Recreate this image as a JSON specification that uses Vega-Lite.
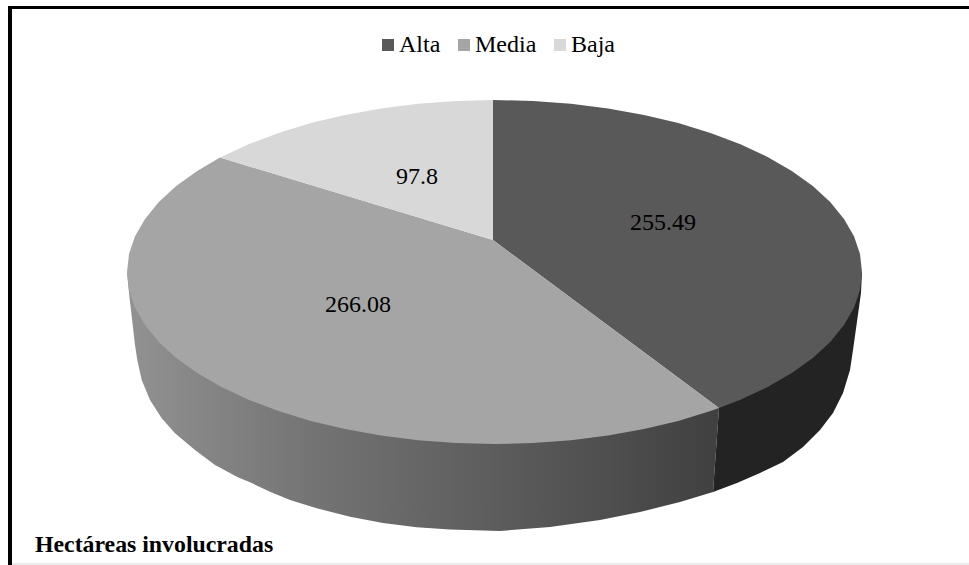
{
  "$schema": "https://vega.github.io/schema/vega-lite/v6.json",
  "width": 969,
  "height": 565,
  "autosize": {"type": "none"},
  "padding": 0,
  "background": "white",
  "view": {"stroke": null},
  "datasets": {
    "mediaWall": [
      {"x":127,"y":272},{"x":129,"y":293},{"x":135,"y":345},{"x":137.3,"y":360},{"x":141.7,"y":380},{"x":150,"y":400},{"x":161.7,"y":418.3},{"x":175,"y":433.3},{"x":195,"y":450},{"x":215,"y":465},{"x":238.3,"y":477.5},{"x":250,"y":482.3},{"x":270,"y":491.7},{"x":290,"y":500},{"x":316.7,"y":508.3},{"x":350,"y":516.7},{"x":383,"y":523},{"x":416.7,"y":527.3},{"x":450,"y":529.5},{"x":500,"y":531},{"x":550,"y":527},{"x":600,"y":520},{"x":640,"y":512},{"x":680,"y":502},{"x":713,"y":492},{"x":719,"y":408},{"x":494,"y":300}
    ],
    "altaWall": [
      {"x":719,"y":408},{"x":713,"y":492},{"x":737,"y":483},{"x":760,"y":473},{"x":783,"y":462},{"x":803,"y":447},{"x":820,"y":430},{"x":833,"y":413},{"x":843,"y":393},{"x":850,"y":370},{"x":853,"y":350},{"x":861,"y":293},{"x":862,"y":272},{"x":700,"y":300}
    ],
    "altaTop": [
      {"x":493,"y":240},{"x":493,"y":100},{"x":532.9,"y":100.9},{"x":570.9,"y":103.8},{"x":608.1,"y":108.4},{"x":644,"y":114.9},{"x":678.3,"y":123},{"x":710.5,"y":132.9},{"x":740.4,"y":144.2},{"x":767.6,"y":156.9},{"x":791.8,"y":170.9},{"x":812.8,"y":186},{"x":830.2,"y":202},{"x":844,"y":218.9},{"x":854,"y":236.2},{"x":860,"y":254},{"x":862,"y":272},{"x":860,"y":290},{"x":854,"y":307.8},{"x":844,"y":325.1},{"x":830.2,"y":342},{"x":812.8,"y":358},{"x":791.8,"y":373.1},{"x":767.6,"y":387.1},{"x":740.4,"y":399.8},{"x":719,"y":408}
    ],
    "mediaTop": [
      {"x":493,"y":240},{"x":719,"y":408},{"x":710.5,"y":411.1},{"x":678.3,"y":421},{"x":644,"y":429.1},{"x":608.1,"y":435.6},{"x":570.9,"y":440.2},{"x":532.9,"y":443.1},{"x":494.5,"y":444},{"x":456.1,"y":443.1},{"x":418.1,"y":440.2},{"x":380.9,"y":435.6},{"x":345,"y":429.1},{"x":310.7,"y":421},{"x":278.5,"y":411.1},{"x":248.6,"y":399.8},{"x":221.4,"y":387.1},{"x":197.2,"y":373.1},{"x":176.2,"y":358},{"x":158.8,"y":342},{"x":145,"y":325.1},{"x":135,"y":307.8},{"x":129,"y":290},{"x":127,"y":272},{"x":129,"y":254},{"x":135,"y":236.2},{"x":145,"y":218.9},{"x":158.8,"y":202},{"x":176.2,"y":186},{"x":197.2,"y":170.9},{"x":220,"y":157.5}
    ],
    "bajaTop": [
      {"x":493,"y":240},{"x":220,"y":157.5},{"x":248.6,"y":144.2},{"x":278.5,"y":132.9},{"x":310.7,"y":123},{"x":345,"y":114.9},{"x":380.9,"y":108.4},{"x":418.1,"y":103.8},{"x":456.1,"y":100.9},{"x":493,"y":100}
    ],
    "slices": [
      {"nivel":"Alta","hectareas":255.49,"x":663,"y":223},
      {"nivel":"Media","hectareas":266.08,"x":358,"y":305},
      {"nivel":"Baja","hectareas":97.8,"x":417,"y":177}
    ],
    "frameTop": [{"x":8,"x2":969,"y":7.5}],
    "frameLeft": [{"x":10,"y":6,"y2":565}],
    "frameBottom": [{"x":12,"x2":969,"y":564}],
    "caption": [{"x":35,"y":552,"texto":"Hectáreas involucradas"}]
  },
  "resolve": {"scale": {"x": "shared", "y": "shared"}},
  "encoding": {
    "x": {"field": "x", "type": "quantitative", "scale": {"domain": [0, 969], "nice": false, "zero": false}, "axis": null},
    "y": {"field": "y", "type": "quantitative", "scale": {"domain": [565, 0], "nice": false, "zero": false}, "axis": null}
  },
  "layer": [
    {
      "data": {"name": "frameBottom"},
      "mark": {"type": "rule", "stroke": "#e6e6e6", "strokeWidth": 1.5},
      "encoding": {"x2": {"field": "x2"}}
    },
    {
      "data": {"name": "frameTop"},
      "mark": {"type": "rule", "stroke": "black", "strokeWidth": 3},
      "encoding": {"x2": {"field": "x2"}}
    },
    {
      "data": {"name": "frameLeft"},
      "mark": {"type": "rule", "stroke": "black", "strokeWidth": 4},
      "encoding": {"y2": {"field": "y2"}}
    },
    {
      "data": {"name": "mediaWall"},
      "mark": {
        "type": "line", "filled": true, "strokeWidth": 0, "interpolate": "linear", "clip": false,
        "fill": {"gradient": "linear", "x1": 0, "y1": 0, "x2": 1, "y2": 0, "stops": [
          {"offset": 0, "color": "#929292"},
          {"offset": 0.3, "color": "#757575"},
          {"offset": 0.63, "color": "#5c5c5c"},
          {"offset": 1, "color": "#404040"}
        ]}
      },
      "encoding": {"order": {"value": null}}
    },
    {
      "data": {"name": "altaWall"},
      "mark": {"type": "line", "filled": true, "strokeWidth": 0, "fill": "#232323"},
      "encoding": {"order": {"value": null}}
    },
    {
      "data": {"name": "altaTop"},
      "mark": {"type": "line", "filled": true, "strokeWidth": 0, "fill": "#595959"},
      "encoding": {"order": {"value": null}}
    },
    {
      "data": {"name": "mediaTop"},
      "mark": {"type": "line", "filled": true, "strokeWidth": 0, "fill": "#a5a5a5"},
      "encoding": {"order": {"value": null}}
    },
    {
      "data": {"name": "bajaTop"},
      "mark": {"type": "line", "filled": true, "strokeWidth": 0, "fill": "#d8d8d8"},
      "encoding": {"order": {"value": null}}
    },
    {
      "data": {"name": "slices"},
      "mark": {"type": "square", "size": 0, "opacity": 0},
      "encoding": {
        "color": {
          "field": "nivel", "type": "nominal",
          "scale": {"domain": ["Alta", "Media", "Baja"], "range": ["#595959", "#a5a5a5", "#d8d8d8"]},
          "legend": {
            "orient": "none", "legendX": 376, "legendY": 33, "direction": "horizontal", "title": null,
            "symbolType": "square", "symbolSize": 144, "symbolOpacity": 1, "symbolStrokeWidth": 0,
            "labelFont": "Liberation Serif", "labelFontSize": 24, "labelColor": "#000000",
            "columnPadding": 11, "labelOffset": -1, "labelLimit": 200
          }
        }
      }
    },
    {
      "data": {"name": "slices"},
      "mark": {"type": "text", "font": "Liberation Serif", "fontSize": 24, "color": "#000000", "align": "center", "baseline": "middle"},
      "encoding": {"text": {"field": "hectareas", "type": "nominal"}}
    },
    {
      "data": {"name": "caption"},
      "mark": {"type": "text", "font": "Liberation Serif", "fontSize": 23.8, "fontWeight": "bold", "color": "#000000", "align": "left", "baseline": "alphabetic"},
      "encoding": {"text": {"field": "texto", "type": "nominal"}}
    }
  ]
}
